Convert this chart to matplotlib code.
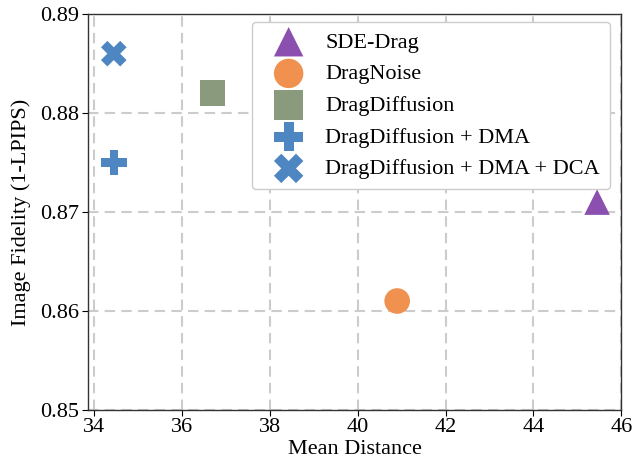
import matplotlib
matplotlib.use("Agg")
import matplotlib.pyplot as plt

plt.rcParams['font.family'] = ['Liberation Serif', 'DejaVu Serif']

methods = ["SDE-Drag", "DragNoise", "DragDiffusion", "DragDiffusion + DMA", "DragDiffusion + DMA + DCA"]
mean_distance = [45.45, 40.9, 36.7, 34.45, 34.45]
fidelity = [0.871, 0.861, 0.882, 0.875, 0.886]
markers = ["^", "o", "s", "P", "X"]
colors = ["#8B4FB0", "#F0914F", "#8A9A7C", "#4E86C2", "#4E86C2"]

fig = plt.figure(figsize=(6.32, 4.70), dpi=100)
ax = fig.add_axes([0.139, 0.128, 0.844, 0.842])

for m, x, y, mk, c in zip(methods, mean_distance, fidelity, markers, colors):
    ax.scatter(x, y, s=340, marker=mk, color=c, label=m, zorder=3, edgecolors='none')

ax.set_xlim(33.86, 46)
ax.set_ylim(0.85, 0.89)
ax.set_xticks([34, 36, 38, 40, 42, 44, 46])
ax.set_yticks([0.85, 0.86, 0.87, 0.88, 0.89])
ax.set_yticklabels(["0.85", "0.86", "0.87", "0.88", "0.89"])
ax.grid(True, linestyle=(0, (5, 3)), color='#cccccc', linewidth=1.5)
ax.tick_params(labelsize=16, direction='out', length=4, pad=2)
ax.set_xlabel("Mean Distance", fontsize=16, labelpad=2)
ax.set_ylabel("Image Fidelity (1-LPIPS)", fontsize=16, labelpad=7)
for s in ax.spines.values():
    s.set_linewidth(1.0)
    s.set_color('#333333')

leg = ax.legend(loc='upper right', fontsize=16, frameon=True, framealpha=1.0,
                edgecolor='#cccccc', borderpad=0.45, labelspacing=0.5,
                handlelength=2.4, handletextpad=0.45, markerscale=1.15,
                borderaxespad=0, bbox_to_anchor=(0.979, 0.98))
fig.savefig("out.png", dpi=100)
